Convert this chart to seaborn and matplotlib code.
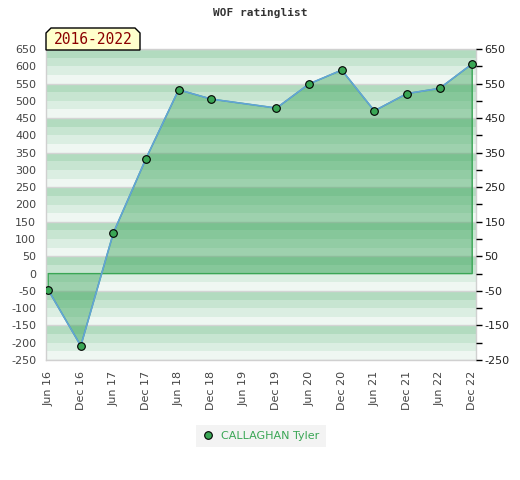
import matplotlib
matplotlib.use("Agg")
import matplotlib.pyplot as plt
from matplotlib.lines import Line2D
from matplotlib.patches import Polygon
import numpy as np
import pandas as pd
import seaborn as sns

# ---- data ----
tick_labels = ["Jun 16", "Dec 16", "Jun 17", "Dec 17", "Jun 18", "Dec 18", "Jun 19",
               "Dec 19", "Jun 20", "Dec 20", "Jun 21", "Dec 21", "Jun 22", "Dec 22"]
tick_months = [0, 6, 12, 18, 24, 30, 36, 42, 48, 54, 60, 66, 72, 78]
point_months = [0, 6, 12, 18, 24, 30, 42, 48, 54, 60, 66, 72, 78]
ratings = [-47, -209, 118, 333, 532, 505, 479, 549, 589, 471, 521, 536, 607]
player = "CALLAGHAN Tyler"
period = "2016-2022"
title = "WOF ratinglist"

df = pd.DataFrame({"month": point_months, "rating": ratings})

sns.set_theme(style="white")
plt.rcParams["font.family"] = ["DejaVu Sans"]

W, H = 520, 480
fig = plt.figure(figsize=(W / 100, H / 100), dpi=100)
L, R, T, B = 46, 476, 49, 360
ax = fig.add_axes([L / W, 1 - B / H, (R - L) / W, (B - T) / H])

ymin, ymax = -250, 650
ax.set_ylim(ymin, ymax)
ax.set_xlim(-0.4, 78.7)

# striped background
stripe_cols = ["#b2dbbf", "#c7e5d1", "#dbeee2", "#eff7f2"]
for lo in np.arange(ymin, ymax, 25):
    k = int(((ymax - (lo + 25)) / 25) % 4)
    ax.axhspan(lo, lo + 25, color=stripe_cols[k], lw=0, zorder=0)
for v in np.arange(ymin, ymax + 1, 100):
    ax.axhline(v, color="#d4d4d4", lw=1, zorder=0.5)

# area fill
ax.fill_between(df["month"], df["rating"], 0, facecolor="#2e9e50", alpha=0.42,
                edgecolor="none", zorder=1)
ax.fill_between(df["month"], df["rating"], 0, facecolor="none",
                edgecolor="#3aa655", lw=1, zorder=1.2)

sns.lineplot(data=df, x="month", y="rating", ax=ax, color="#63a3d8", lw=1.2,
             marker="o", markersize=5.5, markerfacecolor="#3aa655",
             markeredgecolor="black", markeredgewidth=0.8, zorder=3, legend=False)

ax.set_xlabel("")
ax.set_ylabel("")
ax.set_xticks(tick_months)
ax.set_xticklabels(tick_labels, rotation=90, fontsize=8, color="#444444")
ax.set_yticks(np.arange(ymin, ymax + 1, 50))
ax.set_yticklabels([str(v) for v in np.arange(ymin, ymax + 1, 50)], fontsize=8,
                   color="#444444")
ax.tick_params(axis="both", length=0)
ax.tick_params(axis="x", pad=8)
ax.tick_params(axis="y", pad=7)
for s in ax.spines.values():
    s.set_color("#d0d0d0")
    s.set_linewidth(1)

ax2 = ax.twinx()
ax2.set_ylim(ymin, ymax)
ax2.set_yticks(np.arange(ymin, ymax + 1, 100))
ax2.set_yticklabels([str(v) for v in np.arange(ymin, ymax + 1, 100)], fontsize=8,
                    color="#222222")
ax2.set_yticks(np.arange(ymin + 50, ymax, 100), minor=True)
ax2.tick_params(axis="y", which="both", length=4, width=1, color="black",
                direction="out", pad=2)
for s in ax2.spines.values():
    s.set_visible(False)

# title
fig.text(0.5, 1 - 13 / H, title, ha="center", va="center", fontsize=8,
         family="DejaVu Sans Mono", weight="bold", color="#333333")

# period label box with bevelled corners
pts = [(46, 50), (46, 33), (51, 28), (135, 28), (140, 33), (140, 50)]
poly = Polygon([(x / W, 1 - y / H) for x, y in pts], closed=True,
               transform=fig.transFigure, facecolor="#ffffcc", edgecolor="black",
               lw=1, zorder=5)
fig.patches.append(poly)
fig.text(93 / W, 1 - 40 / H, period, ha="center", va="center", fontsize=10.5,
         family="DejaVu Sans Mono", color="#8b0000", zorder=6)

# legend
handle = Line2D([], [], ls="none", marker="o", markersize=5.5,
                markerfacecolor="#3aa655", markeredgecolor="black",
                markeredgewidth=0.8)
leg = fig.legend([handle], [player], loc="center", bbox_to_anchor=(261 / W, 1 - 436 / H),
                 frameon=True, fancybox=False, fontsize=8, handlelength=1,
                 handletextpad=0.7, borderpad=0.55)
leg.get_frame().set_facecolor("#f0f0f0")
leg.get_frame().set_edgecolor("none")
for t in leg.get_texts():
    t.set_color("#3aa655")

fig.savefig("out.png", dpi=100)
